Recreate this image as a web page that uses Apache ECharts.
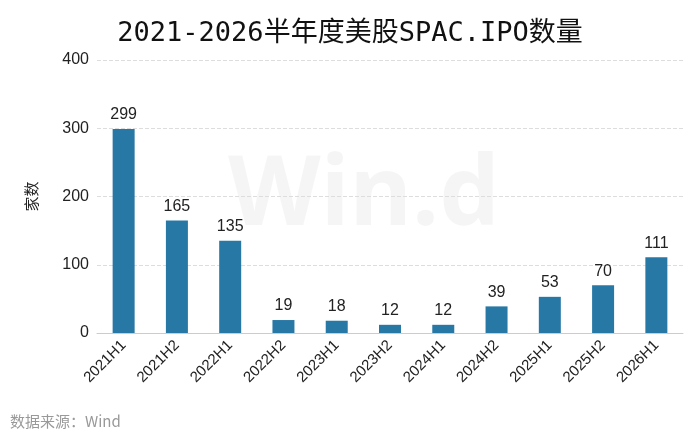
<!DOCTYPE html>
<html><head><meta charset="utf-8">
<script src="https://cdn.jsdelivr.net/npm/echarts@6/dist/echarts.min.js"></script>
<style>html,body{margin:0;padding:0;background:#fff}#c{width:700px;height:443px}</style>
</head><body><div id="c"></div>
<script>
const categories = ['2021H1','2021H2','2022H1','2022H2','2023H1','2023H2','2024H1','2024H2','2025H1','2025H2','2026H1'];
const values = [299,165,135,19,18,12,12,39,53,70,111];
const yTicks = [0,100,200,300,400];
const F = 'Liberation Sans, Arial, sans-serif';
const chart = echarts.init(document.getElementById('c'));
chart.setOption({
  title:{text:'2021-2026半年度美股SPAC.IPO数量',left:'center',top:15,textStyle:{fontFamily:'DejaVu Sans Mono, Noto Sans CJK SC',fontSize:27,fontWeight:'normal',color:'#111'}},
  graphic:[
    {type:'text',left:10,top:414,style:{text:'数据来源：Wind',fontFamily:'Noto Sans CJK SC',fontSize:15,fill:'#999'}},
    {type:'text',left:228,top:150,style:{text:'Win.d',fontFamily:'Noto Sans',fontSize:96,fontWeight:'bold',fill:'rgba(0,0,0,0.04)'}}
  ],
  grid:{left:97,right:17,top:60,bottom:110},
  xAxis:{type:'category',data:categories,axisTick:{show:false},axisLine:{lineStyle:{color:'#ccc'}},
    axisLabel:{rotate:45,fontSize:15,color:'#222',fontFamily:F,margin:10}},
  yAxis:{type:'value',min:0,max:400,interval:100,name:'家数',nameLocation:'middle',nameGap:58,
    nameTextStyle:{fontSize:15,color:'#222',fontFamily:'Noto Sans CJK SC'},
    axisLabel:{fontSize:16,color:'#222',fontFamily:F},
    splitLine:{lineStyle:{type:'dashed',color:'#ddd'}}},
  series:[{type:'bar',data:values,barWidth:22,itemStyle:{color:'#2878a6'},
    label:{show:true,position:'top',fontSize:16,color:'#222',fontFamily:F,distance:6}}]
});
</script></body></html>
